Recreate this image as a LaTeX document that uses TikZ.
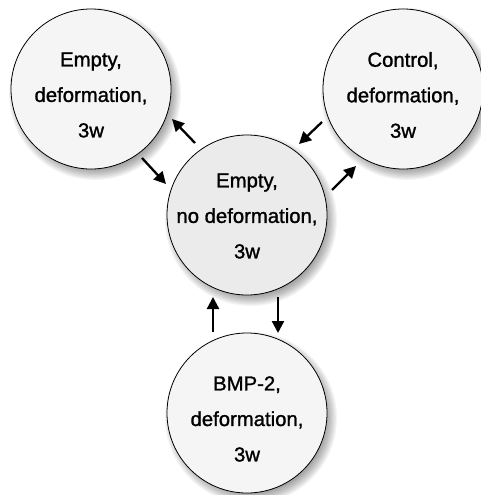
\documentclass[tikz,border=0pt]{standalone}
\usepackage{fontspec}
\setmainfont{Liberation Sans}
\newfontfamily\lblfont{Liberation Sans}[FakeBold=1.2]
\usetikzlibrary{arrows.meta}
\definecolor{outerfill}{HTML}{F5F5F5}
\definecolor{innerfill}{HTML}{EBEBEB}
\newcommand{\softshadow}[1]{%
  \foreach \k in {0,...,9} {
    \fill[black, opacity=0.045] ([shift={(4pt,-5pt)}]#1.center) circle ({80pt+6pt-1.2pt*\k});
  }}
\tikzset{
  state/.style={circle, draw=black, line width=0.8pt, minimum size=160pt, inner sep=0pt},
  outer/.style={state, fill=outerfill},
  inner/.style={state, fill=innerfill},
  lbl/.style={align=center, inner sep=0pt, font=\fontsize{20.3}{35.5}\selectfont\lblfont},
  link/.style={-{Triangle[length=12pt,width=12pt]}, line width=2.3pt}
}
\begin{document}
\begin{tikzpicture}[x=1pt,y=-1pt]
\useasboundingbox (0,0) rectangle (481,495);
\coordinate (ptl) at (91,89);
\coordinate (ptr) at (403,89);
\coordinate (pc) at (247,215);
\coordinate (pb) at (247,413);
\softshadow{ptl}\softshadow{ptr}\softshadow{pc}\softshadow{pb}
\node[outer] (tl) at (ptl) {};
\node[outer] (tr) at (ptr) {};
\node[inner] (c) at (pc) {};
\node[outer] (b) at (pb) {};
\node[lbl] (tltext) at ([yshift=-6pt]tl.center) {Empty,\\deformation,\\3w};
\node[lbl] (trtext) at ([yshift=-6pt]tr.center) {Control,\\deformation,\\3w};
\node[lbl] (ctext) at ([yshift=-1pt]c.center) {Empty,\\no deformation,\\3w};
\node[lbl] (btext) at ([yshift=-6pt]b.center) {BMP-2,\\deformation,\\3w};
\coordinate (a1s) at (195,143); \coordinate (a1e) at (172,119);
\coordinate (a2s) at (142,158); \coordinate (a2e) at (166,184);
\coordinate (a3s) at (322,122); \coordinate (a3e) at (299,144);
\coordinate (a4s) at (332,190); \coordinate (a4e) at (356,166);
\coordinate (a5s) at (213,332); \coordinate (a5e) at (213,297);
\coordinate (a6s) at (278,297); \coordinate (a6e) at (278,333);
\draw[link] (a1s) -- (a1e);
\draw[link] (a2s) -- (a2e);
\draw[link] (a3s) -- (a3e);
\draw[link] (a4s) -- (a4e);
\draw[link] (a5s) -- (a5e);
\draw[link] (a6s) -- (a6e);
\end{tikzpicture}
\end{document}
